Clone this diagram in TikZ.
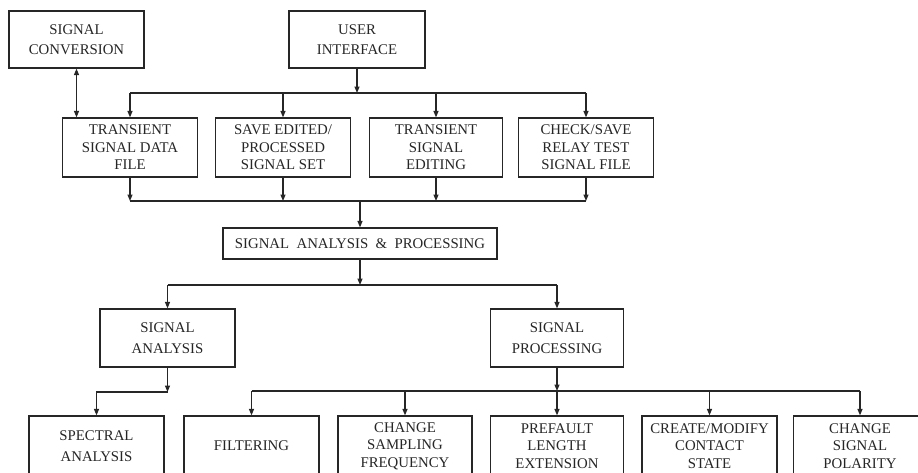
\documentclass[tikz,border=0pt]{standalone}
\usepackage{fontspec}
\setmainfont{Liberation Serif}
\usetikzlibrary{arrows.meta}
\begin{document}
\begin{tikzpicture}[x=1pt,y=-1pt,
  box/.style={draw=black!85, line width=1.2pt, inner sep=0pt, align=center,
    text=black!85, font=\fontsize{14.8}{17.5}\selectfont},
  wire/.style={draw=black!85, line width=1.2pt},
  arr/.style={wire, -{Triangle[length=6.5pt,width=5pt]}},
  darr/.style={wire, {Triangle[length=6.5pt,width=5pt]}-{Triangle[length=6.5pt,width=5pt]}}
]
\useasboundingbox (0,0) rectangle (918,472);
\fill[white] (0,0) rectangle (918,472);
\clip (0,0) rectangle (918,472);

% top row
\node[box, minimum width=135pt, minimum height=57pt] (sc) at (76.5,39.5) {SIGNAL\\[2.5pt]CONVERSION};
\node[box, minimum width=136pt, minimum height=57pt] (ui) at (357,39.5) {USER\\[2.5pt]INTERFACE};

% second row
\node[box, minimum width=135pt, minimum height=59pt] (t1) at (130,147.5) {TRANSIENT\\SIGNAL DATA\\FILE};
\node[box, minimum width=135pt, minimum height=59pt] (t2) at (283,147.5) {SAVE EDITED/\\PROCESSED\\SIGNAL SET};
\node[box, minimum width=133pt, minimum height=59pt] (t3) at (436,147.5) {TRANSIENT\\SIGNAL\\EDITING};
\node[box, minimum width=135pt, minimum height=59pt] (t4) at (586,147.5) {CHECK/SAVE\\RELAY TEST\\SIGNAL FILE};

% middle
\node[box, minimum width=274pt, minimum height=31pt] (sap) at (360,243.5) {SIGNAL\ \ ANALYSIS\ \ \&\ \ PROCESSING};
\node[box, minimum width=135pt, minimum height=58pt] (sa) at (167.5,338) {SIGNAL\\[4pt]ANALYSIS};
\node[box, minimum width=133pt, minimum height=58pt] (sp) at (557,338) {SIGNAL\\[4pt]PROCESSING};

% bottom row
\node[box, minimum width=135pt, minimum height=60pt] (spec) at (96.5,446) {SPECTRAL\\[3pt]ANALYSIS};
\node[box, minimum width=135pt, minimum height=60pt] (filt) at (251.5,446) {FILTERING};
\node[box, minimum width=134pt, minimum height=60pt] (csf) at (405,446) {CHANGE\\SAMPLING\\FREQUENCY};
\node[box, minimum width=133pt, minimum height=60pt] (pfl) at (557,446) {PREFAULT\\LENGTH\\EXTENSION};
\node[box, minimum width=135pt, minimum height=60pt] (cmc) at (709.5,446) {CREATE/MODIFY\\CONTACT\\STATE};
\node[box, minimum width=133pt, minimum height=60pt] (csp) at (860,446) {CHANGE\\SIGNAL\\POLARITY};

% bus levels
\coordinate (yA) at (0,93);
\coordinate (yB) at (0,201);
\coordinate (yC) at (0,285);
\coordinate (yD) at (0,392);
\coordinate (yE) at (0,391);

% signal conversion <-> transient data file
\draw[darr] (sc.south) -- (sc.south |- t1.north);

% user interface bus
\draw[arr] (ui.south) -- (ui.south |- yA);
\draw[wire] (t1.north |- yA) -- (t4.north |- yA);
\foreach \n in {t1,t2,t3,t4} \draw[arr] (\n.north |- yA) -- (\n.north);

% lower bus to analysis & processing
\foreach \n in {t1,t2,t3,t4} \draw[arr] (\n.south) -- (\n.south |- yB);
\draw[wire] (t1.south |- yB) -- (t4.south |- yB);
\draw[arr] (sap.north |- yB) -- (sap.north);

% analysis & processing split
\draw[arr] (sap.south) -- (sap.south |- yC);
\draw[wire] (sa.north |- yC) -- (sp.north |- yC);
\draw[arr] (sa.north |- yC) -- (sa.north);
\draw[arr] (sp.north |- yC) -- (sp.north);

% signal analysis branch
\draw[arr] (sa.south) -- (sa.south |- yD);
\draw[arr] (sa.south |- yD) -| (spec.north);

% signal processing branch
\draw[arr] (sp.south) -- (sp.south |- yE);
\draw[wire] (filt.north |- yE) -- (csp.north |- yE);
\foreach \n in {filt,csf,pfl,cmc,csp} \draw[arr] (\n.north |- yE) -- (\n.north);
\end{tikzpicture}
\end{document}
